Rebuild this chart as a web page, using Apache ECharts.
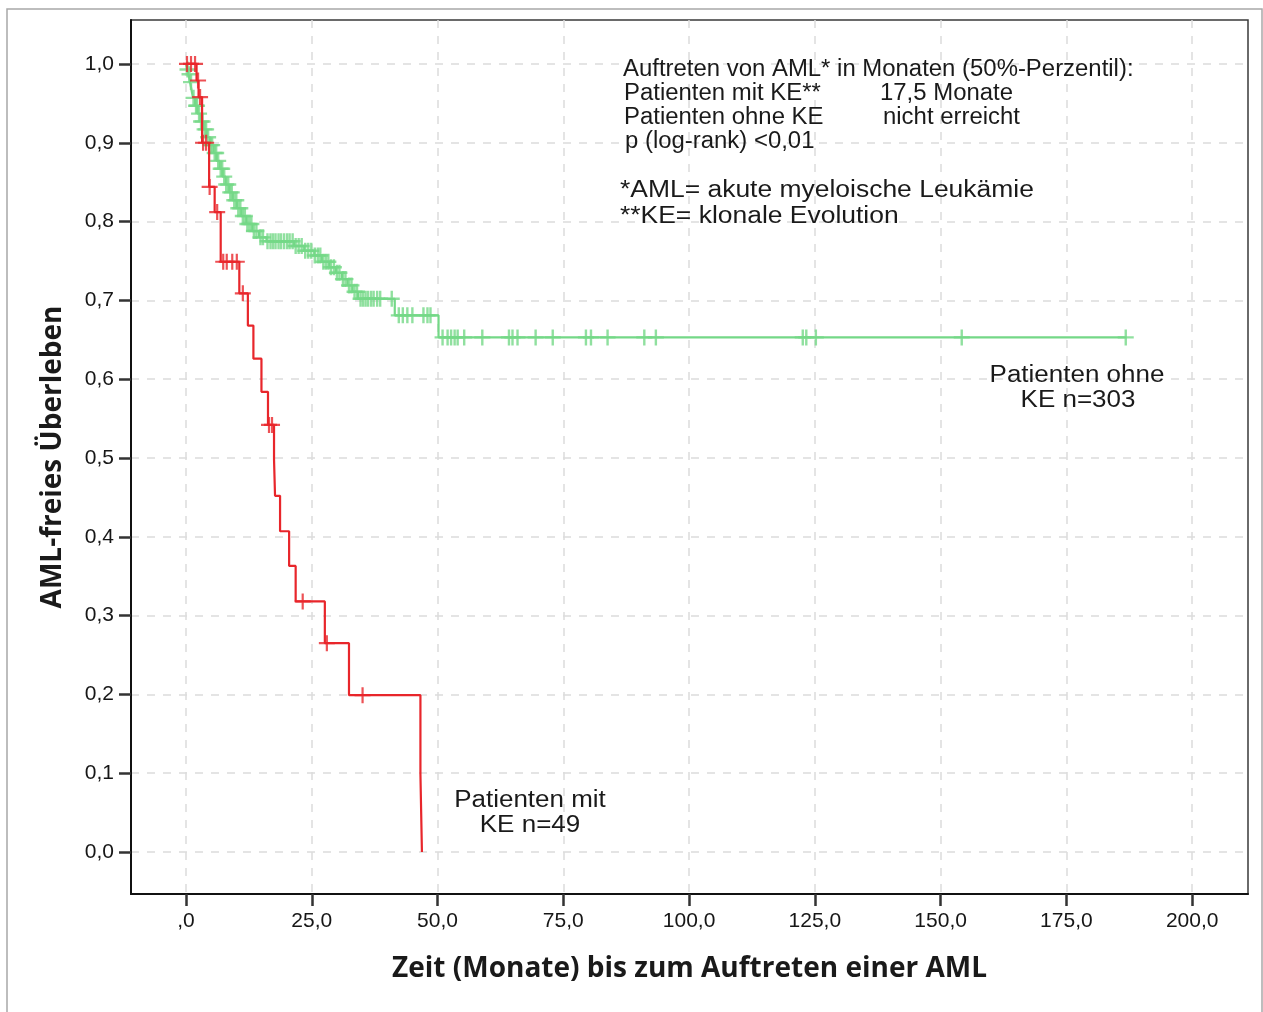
<!DOCTYPE html>
<html>
<head>
<meta charset="utf-8">
<title>AML-freies Überleben</title>
<script src="https://cdn.jsdelivr.net/npm/echarts@6/dist/echarts.min.js"></script>
<style>
  html, body { margin: 0; padding: 0; background: #fff; }
  #chart { width: 1263px; height: 1012px; }
</style>
</head>
<body>
<div id="chart"></div>
<script>
// Kaplan-Meier: Patienten mit klonaler Evolution (KE), n=49
const redStepTimes = [0, 2.1, 2.5, 3.2, 4.6, 5.7, 6.9, 10.6, 12.3, 13.4, 15.0, 16.3, 17.5, 17.7, 18.7, 20.5, 21.8, 27.6, 32.4, 46.6, 46.9];
const redStepSurv  = [1.0, 0.979, 0.958, 0.900, 0.844, 0.812, 0.749, 0.709, 0.668, 0.626, 0.584, 0.542, 0.498, 0.452, 0.407, 0.363, 0.318, 0.265, 0.199, 0.099, 0.0];
const redCensorTimes = [0.2, 1.0, 1.8, 2.4, 2.8, 3.4, 4.0, 4.7, 6.2, 7.4, 8.1, 9.2, 10.1, 11.3, 16.5, 17.1, 23.2, 28.0, 35.1];

// Kaplan-Meier: Patienten ohne KE, n=303
const greenStepTimes = [0, 0.2, 0.5, 0.8, 1.1, 1.4, 1.8, 2.3, 2.9, 3.5, 4.1, 4.8, 5.5, 6.1, 6.7, 7.3, 7.9, 8.6, 9.3, 10.1, 11.0, 12.0, 13.2, 14.5, 16.0, 21.5, 23.5, 25.5, 27.0, 28.5, 29.8, 31.0, 32.1, 33.1, 34.2, 41.5, 50.2];
const greenStepSurv  = [1.0, 0.993, 0.987, 0.977, 0.967, 0.957, 0.947, 0.937, 0.927, 0.917, 0.907, 0.897, 0.887, 0.877, 0.867, 0.857, 0.847, 0.837, 0.827, 0.817, 0.807, 0.797, 0.788, 0.780, 0.775, 0.769, 0.763, 0.757, 0.749, 0.742, 0.735, 0.727, 0.719, 0.711, 0.702, 0.681, 0.653];
const greenFollowUpEnd = 187.0;
const greenCensorTimes = [
  0.3, 0.7, 1.0, 1.5, 2.0, 2.2, 2.6, 3.0, 3.3, 3.7, 4.0, 4.4, 4.9, 5.2, 5.7, 6.0, 6.4, 6.9, 7.2, 7.6,
  8.0, 8.4, 8.8, 9.1, 9.6, 10.0, 10.4, 10.8, 11.3, 11.7, 12.2, 12.6, 13.0, 13.5, 14.0, 14.8, 15.3, 16.2,
  16.8, 17.3, 17.8, 18.4, 18.9, 19.5, 20.1, 20.6, 21.2, 21.8, 22.4, 23.0, 23.7, 24.3, 24.9, 25.6, 26.2,
  26.7, 27.3, 27.8, 28.3, 28.8, 29.4, 30.0, 30.5, 31.2, 31.7, 32.4, 32.9, 33.5, 34.0, 34.7, 35.2, 35.7,
  36.2, 36.8, 37.3, 38.0, 38.6, 40.9, 42.3, 43.1, 44.0, 45.0, 47.2, 48.0, 48.6,
  51.0, 52.0, 52.7, 53.4, 54.0, 55.3, 58.9, 64.2, 64.9, 65.9, 69.5, 72.9, 79.5, 80.5, 83.8, 91.1, 93.4,
  122.6, 123.3, 125.2, 154.2, 186.8
];

// Axis ticks
const xTicks = [0, 25, 50, 75, 100, 125, 150, 175, 200];
const yTicks = [0, 0.1, 0.2, 0.3, 0.4, 0.5, 0.6, 0.7, 0.8, 0.9, 1.0];

const RED = '#e8262b';
const GREEN = '#74d887';
const TEXT = '#1a1a1a';
const PLUS = 'path://M0,8L16,8M8,0L8,16';

// survival value in effect at time t (step function lookup)
function survAt(times, surv, t) {
  let s = surv[0];
  for (let i = 0; i < times.length; i++) {
    if (times[i] <= t) s = surv[i]; else break;
  }
  return s;
}

const redLine = redStepTimes.map((t, i) => [t, redStepSurv[i]]);
const greenLine = greenStepTimes.map((t, i) => [t, greenStepSurv[i]]);
greenLine.push([greenFollowUpEnd, greenStepSurv[greenStepSurv.length - 1]]);
const redCensor = redCensorTimes.map(t => [t, survAt(redStepTimes, redStepSurv, t)]);
const greenCensor = greenCensorTimes.map(t => [t, survAt(greenStepTimes, greenStepSurv, t)]);

const fmt = v => (Math.abs(v) < 1e-9 ? ',0' : v.toFixed(1).replace('.', ','));
const fmtY = v => v.toFixed(1).replace('.', ',');

const chart = echarts.init(document.getElementById('chart'), null, { renderer: 'canvas' });

function txt(x, y, text, size, sx, align) {
  return {
    type: 'text', x: x, y: y, scaleX: sx, silent: true, z: 50,
    style: {
      text: text, fill: TEXT,
      font: size + 'px "Liberation Sans", Arial, sans-serif',
      align: align || 'left', verticalAlign: 'middle',
      textAlign: align || 'left', textVerticalAlign: 'middle'
    }
  };
}

const option = {
  animation: false,
  backgroundColor: '#ffffff',
  grid: {
    left: 131, top: 20, right: 15, bottom: 118,
    show: true, borderColor: '#3a3a3a', borderWidth: 1.5, backgroundColor: 'transparent'
  },
  xAxis: {
    type: 'value', min: -10.93, max: 211.1,
    name: 'Zeit (Monate) bis zum Auftreten einer AML',
    nameLocation: 'middle', nameGap: 61,
    nameTextStyle: { fontFamily: '"Open Sans", sans-serif', fontWeight: 'bold', fontSize: 28, color: TEXT },
    axisLine: { show: true, onZero: false, lineStyle: { color: '#111', width: 2 } },
    axisTick: { show: true, length: 12, customValues: xTicks, lineStyle: { color: '#333', width: 2.5 } },
    axisLabel: { customValues: xTicks, formatter: fmt, margin: 17, color: '#161616', fontSize: 21, fontFamily: '"Liberation Sans", Arial, sans-serif' },
    splitLine: { show: true, lineStyle: { color: '#dcdcdc', width: 1.5, type: [8, 8] } }
  },
  yAxis: {
    type: 'value', min: -0.0533, max: 1.0558,
    name: 'AML-freies Überleben',
    nameLocation: 'middle', nameGap: 64, nameRotate: 90,
    nameTextStyle: { fontFamily: '"Open Sans", sans-serif', fontWeight: 'bold', fontSize: 28, color: TEXT },
    axisLine: { show: true, onZero: false, lineStyle: { color: '#111', width: 2 } },
    axisTick: { show: true, length: 12, customValues: yTicks, lineStyle: { color: '#333', width: 2.5 } },
    axisLabel: { customValues: yTicks, formatter: fmtY, margin: 17, color: '#161616', fontSize: 21, fontFamily: '"Liberation Sans", Arial, sans-serif' },
    splitLine: { show: true, lineStyle: { color: '#dcdcdc', width: 1.5, type: [8, 8] } }
  },
  series: [
    {
      name: 'ohne KE', type: 'line', step: 'end', data: greenLine,
      showSymbol: false, symbol: 'none', silent: true, z: 3,
      lineStyle: { color: GREEN, width: 2.2 }
    },
    {
      name: 'ohne KE zensiert', type: 'scatter', data: greenCensor,
      symbol: PLUS, symbolSize: 16, silent: true, z: 4,
      itemStyle: { color: 'rgba(0,0,0,0)', borderColor: GREEN, borderWidth: 2.4 }
    },
    {
      name: 'mit KE', type: 'line', step: 'end', data: redLine,
      showSymbol: false, symbol: 'none', silent: true, z: 5,
      lineStyle: { color: RED, width: 2.2 }
    },
    {
      name: 'mit KE zensiert', type: 'scatter', data: redCensor,
      symbol: PLUS, symbolSize: 16, silent: true, z: 6,
      itemStyle: { color: 'rgba(0,0,0,0)', borderColor: RED, borderWidth: 2.2 }
    }
  ],
  graphic: [
    { type: 'rect', silent: true, z: 0,
      shape: { x: 7, y: 9, width: 1255, height: 1010 },
      style: { fill: 'none', stroke: '#a8a8a8', lineWidth: 1.5 } },
    txt(623, 70, 'Auftreten von AML* in Monaten (50%-Perzentil):', 23, 1.04),
    txt(624, 94, 'Patienten mit KE**', 23, 1.04),
    txt(880, 94, '17,5 Monate', 23, 1.04),
    txt(624, 118, 'Patienten ohne KE', 23, 1.04),
    txt(883, 118, 'nicht erreicht', 23, 1.04),
    txt(625, 142, 'p (log-rank) <0,01', 23, 1.04),
    txt(620, 191, '*AML= akute myeloische Leukämie', 23, 1.15),
    txt(620, 217, '**KE= klonale Evolution', 23, 1.15),
    txt(1077, 376, 'Patienten ohne', 23, 1.13, 'center'),
    txt(1078, 401, 'KE n=303', 23, 1.13, 'center'),
    txt(530, 801, 'Patienten mit', 23, 1.13, 'center'),
    txt(530, 826, 'KE n=49', 23, 1.13, 'center')
  ]
};

chart.setOption(option);
</script>
</body>
</html>
